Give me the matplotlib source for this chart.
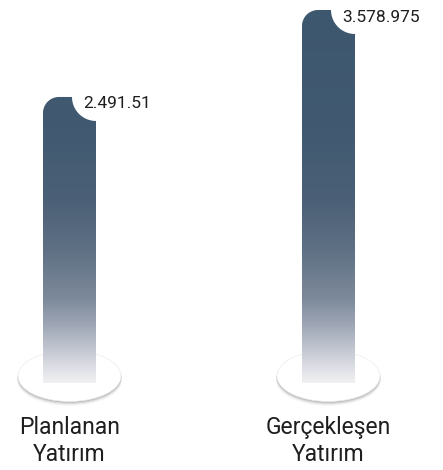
import numpy as np
import matplotlib
matplotlib.use("Agg")
import matplotlib.pyplot as plt
from matplotlib.path import Path
from matplotlib.patches import PathPatch, Ellipse
from matplotlib.colors import LinearSegmentedColormap

# --- data ---
categories = ["Planlanan\nYatırım", "Gerçekleşen\nYatırım"]
values = [2491.51, 3578.975]
value_labels = ["2.491.51", "3.578.975"]

# --- layout / style ---
W_PX, H_PX = 443, 470
BASE = -1085          # value where the bars start (baseline)
PX_PER_X = 259.0      # pixels per category step
X0_PX = 69.5          # pixel of first category centre
BASE_PX = 87.0        # baseline height in pixels (from bottom)
PX_PER_Y = 373.0 / (values[1] - BASE)
BAR_W_PX = 53
R_LEFT = 16           # rounded top-left corner
R_BITE = 24           # concave bite at top-right
FONT = ["Roboto", "DejaVu Sans"]

grad_stops = [
    (0.000, "#f0f0f2"),
    (0.035, "#e0e1e7"),
    (0.062, "#d2d4dc"),
    (0.142, "#a5acbb"),
    (0.223, "#7d8a9b"),
    (0.357, "#5f7084"),
    (0.490, "#4b6076"),
    (0.678, "#415a71"),
    (1.000, "#3d576e"),
]
cmap = LinearSegmentedColormap.from_list("bar_grad", grad_stops)

fig = plt.figure(figsize=(W_PX / 100, H_PX / 100), dpi=100)
ax = fig.add_axes([0, 0, 1, 1])
ax.axis("off")

# pixel -> data unit helpers
ux = 1.0 / PX_PER_X
uy = 1.0 / PX_PER_Y


def bar_path(xc, top):
    xl = xc - BAR_W_PX / 2 * ux
    xr = xc + BAR_W_PX / 2 * ux
    pts = [(xl, BASE), (xl, top - R_LEFT * uy)]
    th = np.linspace(np.pi, np.pi / 2, 20)
    cx, cy = xl + R_LEFT * ux, top - R_LEFT * uy
    pts += list(zip(cx + R_LEFT * ux * np.cos(th), cy + R_LEFT * uy * np.sin(th)))
    th = np.linspace(np.pi, 1.5 * np.pi, 24)
    pts += list(zip(xr + R_BITE * ux * np.cos(th), top + R_BITE * uy * np.sin(th)))
    pts += [(xr, BASE), (xl, BASE)]
    codes = [Path.MOVETO] + [Path.LINETO] * (len(pts) - 2) + [Path.CLOSEPOLY]
    return Path(pts, codes)


grad = np.linspace(0, 1, 256).reshape(-1, 1)

for i, (v, lab, cat) in enumerate(zip(values, value_labels, categories)):
    # base plate: soft shadow then white ellipse
    ec = BASE + 7.0 * uy
    for k, a in zip([5, 4, 3, 2, 1], [0.04, 0.07, 0.11, 0.16, 0.22]):
        ax.add_patch(Ellipse((i, ec - k * 0.8 * uy), (103 + k * 0.4) * ux, (51 + k * 0.2) * uy,
                             facecolor="#6e6e6e", edgecolor="none", alpha=a, zorder=1))
    ax.add_patch(Ellipse((i, ec), 103 * ux, 51 * uy, facecolor="white",
                         edgecolor="#ececec", linewidth=0.5, zorder=2))

    # gradient bar clipped to shaped path
    patch = PathPatch(bar_path(i, v), facecolor="none", edgecolor="none", zorder=3)
    ax.add_patch(patch)
    im = ax.imshow(grad, cmap=cmap, aspect="auto", origin="lower",
                   extent=(i - 0.2, i + 0.2, BASE, values[1]), zorder=3,
                   interpolation="bicubic")
    im.set_clip_path(patch)

    # value label in the bite
    ax.annotate(lab, (i + BAR_W_PX / 2 * ux, v), xytext=(-13, -7), textcoords="offset pixels",
                ha="left", va="center", fontsize=12.5, color="#1e1e1e", family=FONT,
                zorder=5)

    # category label
    ax.annotate(cat, (i, BASE), xytext=(0, -33), textcoords="offset pixels",
                ha="center", va="top", fontsize=16.5, color="#1e1e1e", family=FONT,
                linespacing=1.2, zorder=5)

ax.set_xlim(-X0_PX / PX_PER_X, (W_PX - X0_PX) / PX_PER_X)
ax.set_ylim(BASE - BASE_PX / PX_PER_Y, BASE + (H_PX - BASE_PX) / PX_PER_Y)

fig.savefig("out.png", dpi=100, facecolor="white")
